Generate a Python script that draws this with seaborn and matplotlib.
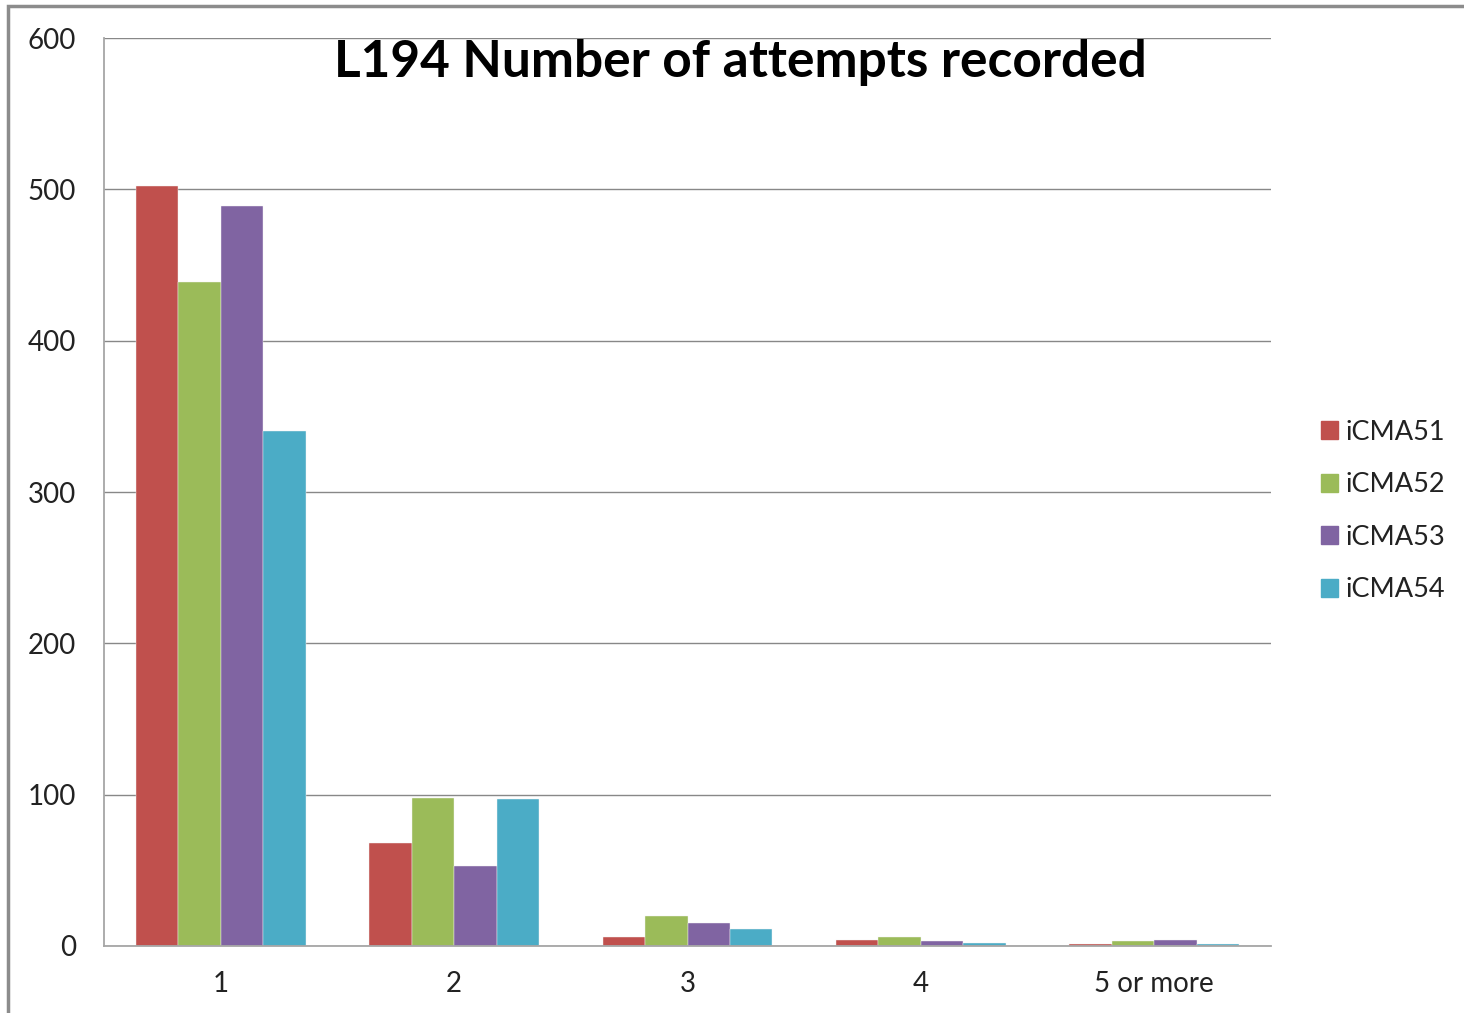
import numpy as np
import pandas as pd
import matplotlib
matplotlib.use('Agg')
import matplotlib.pyplot as plt
import seaborn as sns
from matplotlib.patches import Rectangle

sns.set_style("white")
plt.rcParams['font.family'] = ['Lato', 'DejaVu Sans']

# data
categories = ['1', '2', '3', '4', '5 or more']
series = ['iCMA51', 'iCMA52', 'iCMA53', 'iCMA54']
icma51 = [502, 68, 6, 4, 1]
icma52 = [439, 98, 20, 6, 3]
icma53 = [489, 53, 15, 3, 4]
icma54 = [340, 97, 11, 2, 1]
colors = ['#C0504D', '#9BBB59', '#8064A2', '#4BACC6']

rows = []
for name, vals in zip(series, [icma51, icma52, icma53, icma54]):
    for cat, v in zip(categories, vals):
        rows.append({'attempts': cat, 'count': v, 'series': name})
df = pd.DataFrame(rows)

fig = plt.figure(figsize=(14.64, 10.13), dpi=100)
ax = fig.add_axes([104 / 1464, 1 - 946 / 1013, (1271 - 104) / 1464, (946 - 38) / 1013])

sns.barplot(data=df, x='attempts', y='count', hue='series', order=categories,
            hue_order=series, palette=colors, width=0.727, gap=0,
            saturation=1, edgecolor='#f4f4f4', linewidth=0.3, ax=ax)

ax.set_xlim(-0.5, 4.5)
ax.set_ylim(0, 600)
ax.set_yticks(range(0, 601, 100))
ax.set_xlabel('')
ax.set_ylabel('')
ax.yaxis.grid(True, color='#888888', linewidth=1)
ax.set_axisbelow(True)
for s in ['top', 'right']:
    ax.spines[s].set_visible(False)
for s in ['left', 'bottom']:
    ax.spines[s].set_color('#A6A6A6')
    ax.spines[s].set_linewidth(1.3)

ax.tick_params(axis='y', length=6, color='#A6A6A6', width=1.3, pad=14, labelsize=20,
               labelcolor='#222222')
ax.tick_params(axis='x', which='major', length=0, pad=18, labelsize=20, labelcolor='#222222')
ax.set_xticks(np.arange(-0.5, 4.6, 1), minor=True)
ax.tick_params(axis='x', which='minor', length=7, color='#A6A6A6', width=1.3)

ax.get_legend().remove()
handles = [Rectangle((0, 0), 1, 1, color=c) for c in colors]
fig.legend(handles, series, loc='center left', bbox_to_anchor=(0.8855, 0.4956),
           frameon=False, fontsize=19.5, handlelength=0.65, handleheight=0.65,
           handletextpad=0.25, labelspacing=1.02, labelcolor='#222222')

fig.text(0.506, 1 - 62 / 1013, 'L194 Number of attempts recorded', ha='center',
         va='center', fontsize=37, fontweight='bold', color='black')

# outer chart frame
fig.patches.append(Rectangle((8 / 1464, -0.05), 1.2, 1 - 6 / 1013 + 0.05, transform=fig.transFigure,
                             fill=False, edgecolor='#8C8C8C', linewidth=2.5))

plt.savefig('out.png', dpi=100)
